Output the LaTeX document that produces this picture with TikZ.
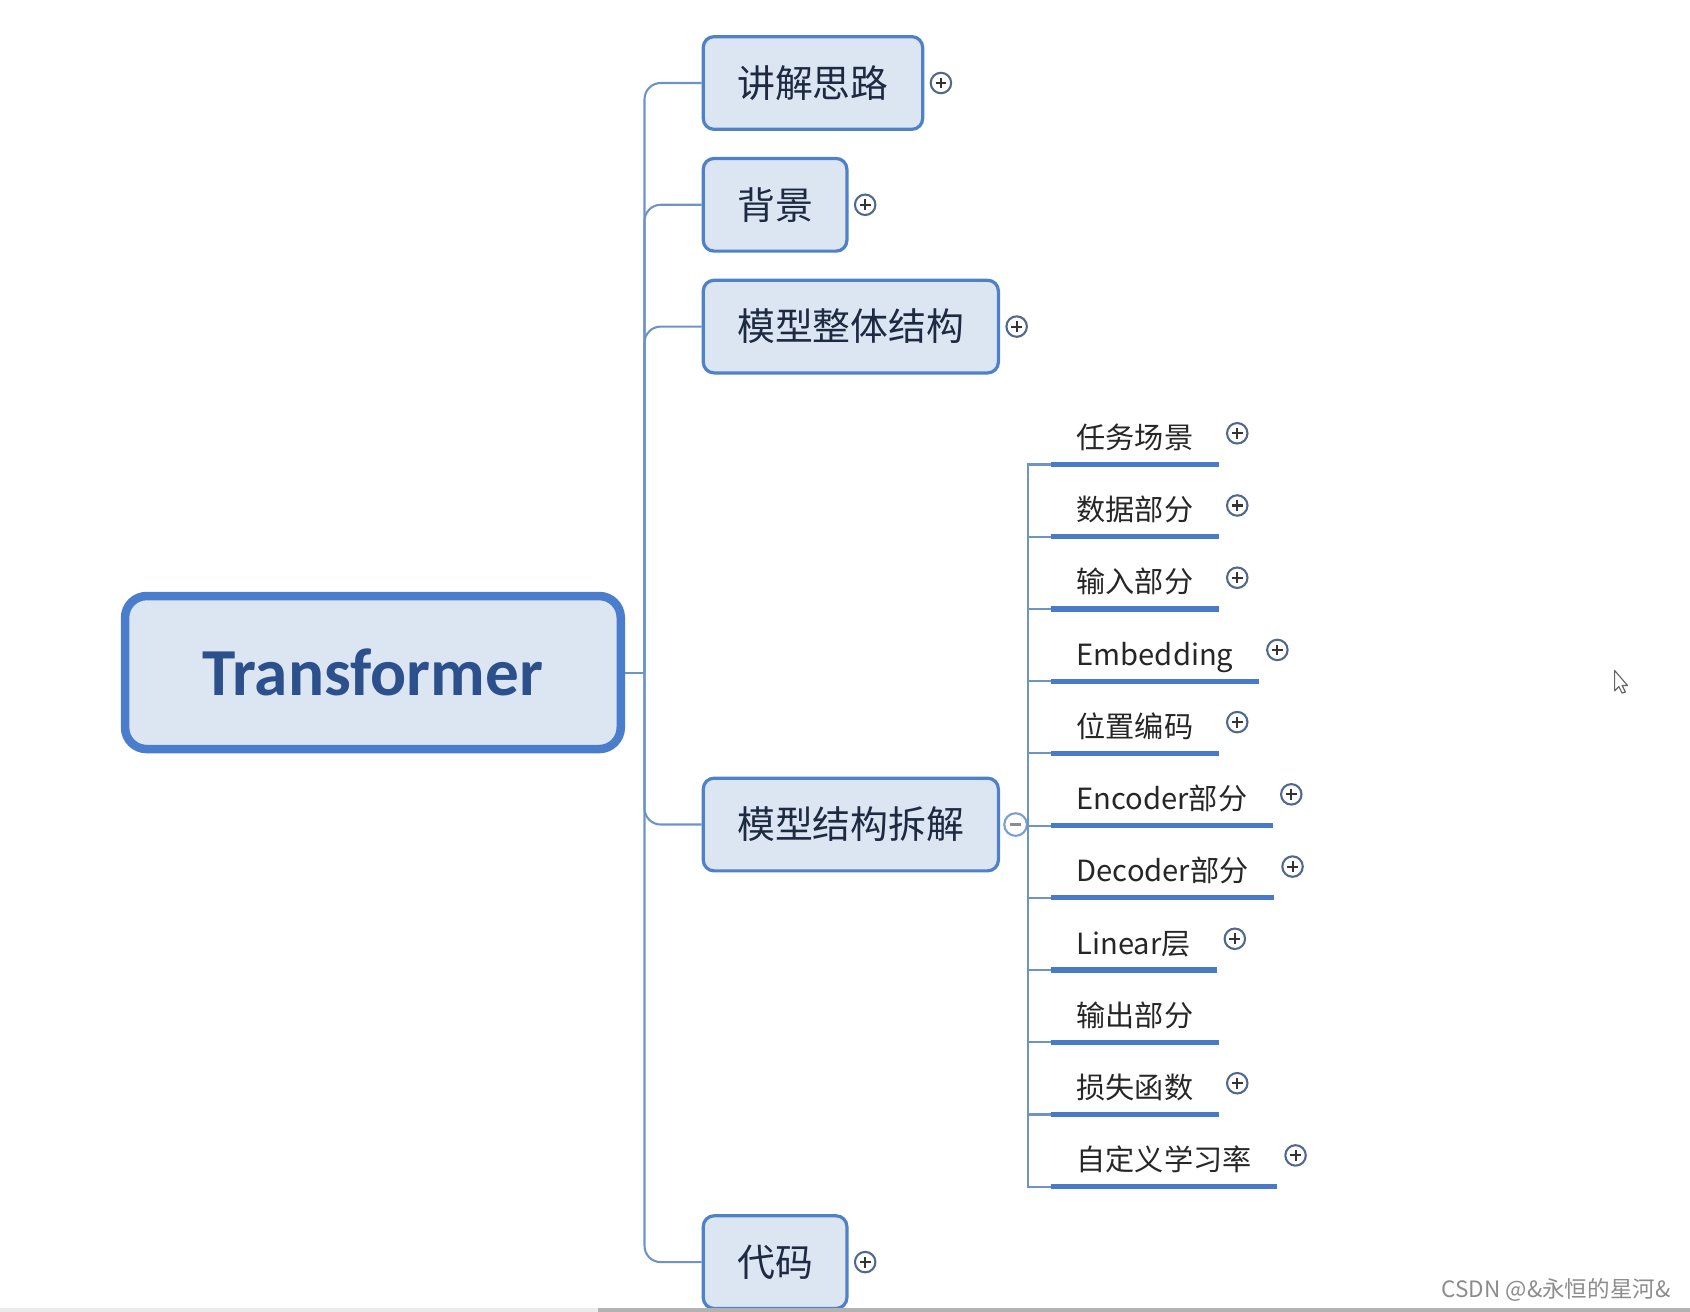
\documentclass[tikz,border=0pt]{standalone}
\usepackage{fontspec}
\setmainfont{Noto Sans CJK SC}
\newfontfamily\rootfont{Carlito}
\usetikzlibrary{positioning}
\definecolor{boxfill}{RGB}{220,230,242}
\definecolor{boxline}{RGB}{79,129,200}
\definecolor{rootline}{RGB}{74,126,204}
\definecolor{roottext}{RGB}{44,80,140}
\definecolor{topictext}{RGB}{30,42,66}
\definecolor{branchline}{RGB}{110,148,198}
\definecolor{ulineblue}{RGB}{72,122,200}
\definecolor{btnline}{RGB}{80,104,142}
\definecolor{minusline}{RGB}{120,158,208}

\tikzset{
  btnsign/.style={line width=1.1pt},
  plusbtn/.style={circle, draw=btnline, fill=white, line width=1.1pt, minimum size=0.38cm, inner sep=0pt,
    path picture={
      \draw[btnsign,black!80] ([xshift=-0.1cm]path picture bounding box.center) -- ([xshift=0.1cm]path picture bounding box.center);
      \draw[btnsign,black!80] ([yshift=-0.1cm]path picture bounding box.center) -- ([yshift=0.1cm]path picture bounding box.center);}},
  minusbtn/.style={circle, draw=minusline, fill=white, line width=1.1pt, minimum size=0.42cm, inner sep=0pt,
    path picture={
      \draw[btnsign,black!45] ([xshift=-0.1cm]path picture bounding box.center) -- ([xshift=0.1cm]path picture bounding box.center);}}
}

\begin{document}
\begin{tikzpicture}[x=0.02cm, y=-0.02cm,
  root/.style={draw=rootline, fill=boxfill, line width=4.5pt, rounded corners=0.4cm,
    minimum width=9.2cm, minimum height=2.84cm, text=roottext,
    font=\rootfont\bfseries\fontsize{35.5}{40}\selectfont},
  topic/.style={draw=boxline, fill=boxfill, line width=1.7pt, rounded corners=0.2cm,
    inner xsep=0.63cm, minimum height=1.72cm, anchor=west, text=topictext,
    font=\fontsize{20}{24}\selectfont},
  leaf/.style={anchor=south west, inner xsep=0.47cm, inner ysep=0.19cm,
    text height=0.5cm, text depth=0.1cm, text=black!85, font=\fontsize{15.4}{18}\selectfont},
  branch/.style={draw=branchline, line width=1.1pt},
  uline/.style={draw=ulineblue, line width=2.8pt},
  wmark/.style={text=black!45, font=\fontsize{11.9}{14}\selectfont}
]
  \useasboundingbox (0,0) rectangle (1568,1217);
  % Root
  \node[root] (root) at (346,624) {Transformer};
  \coordinate (trunk) at (598,624);
  \draw[branch] (root.east) -- (trunk);
  %
  % First level
  \node[topic] (t1) at (651,77) {讲解思路};
  \node[topic] (t2) at (651,190) {背景};
  \node[topic] (t3) at (651,303) {模型整体结构};
  \node[topic] (t4) at (651,765) {模型结构拆解};
  \node[topic] (t5) at (651,1171) {代码};
  \foreach \t in {t1,t2,t3,t4,t5}
    \draw[branch, rounded corners=0.3cm] (trunk) |- (\t.west);
  \foreach \t in {t1,t2,t3,t5}
    \node[plusbtn, right=0.1cm of \t] (\t btn) {};
  \node[minusbtn, right=0.06cm of t4] (t4btn) {};
  %
  % Second level
  \coordinate (fork) at (954,766);
  \draw[branch] (t4btn.east) -- (fork);
  \foreach \i/\txt/\btn in {1/任务场景/1, 2/数据部分/1, 3/输入部分/1, 4/Embedding/1,
      5/位置编码/1, 6/Encoder部分/1, 7/Decoder部分/1, 8/Linear层/1,
      9/输出部分/0, 10/损失函数/1, 11/自定义学习率/1} {
    \node[leaf] (l\i) at (975,{431+67*(\i-1)}) {\txt};
    \draw[branch] (fork) |- (l\i.south west);
    \draw[uline] (l\i.south west) -- (l\i.south east);
    \ifnum\btn=1
      \node[plusbtn] (l\i btn) at ([shift={(17,-29)}]l\i.south east) {};
    \fi
  }
  %
  % Screen details
  \draw[black!60, fill=white, line join=round, line width=0.6pt]
    (1498,622) -- (1498,641) -- (1502,637) -- (1505,643) -- (1508,642) -- (1505,636) -- (1510,636) -- cycle;
  \fill[black!8] (0,1214) rectangle (1568,1217);
  \fill[black!30] (555,1214) rectangle (1568,1217);
  \node[wmark, anchor=east] (credit) at (1556,1197) {CSDN @\&永恒的星河\&};
\end{tikzpicture}
\end{document}
